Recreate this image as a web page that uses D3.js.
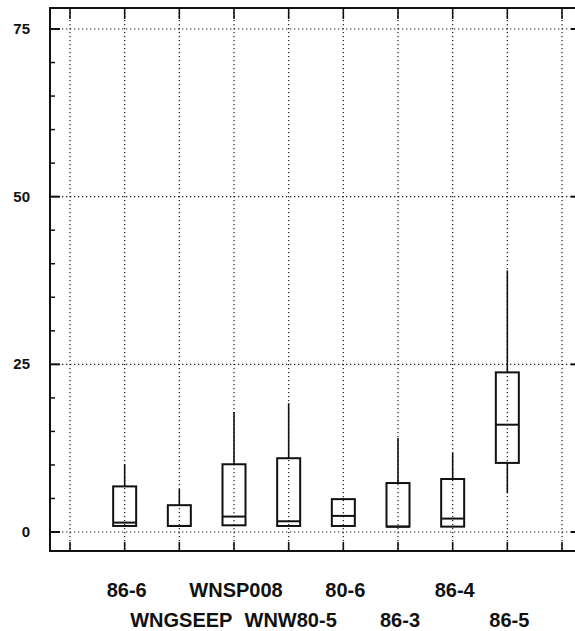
<!DOCTYPE html>
<html>
<head>
<meta charset="utf-8">
<script src="https://cdn.jsdelivr.net/npm/d3@7"></script>
<style>
  body { margin: 0; background: #fff; }
  text { font-family: "Liberation Sans", Arial, sans-serif; font-weight: bold; fill: #111; }
</style>
</head>
<body>
<svg id="chart" width="575" height="631"></svg>
<script>
// categories in plot order, and their label row (0 = upper, 1 = lower)
let categories = ['86-6', 'WNGSEEP', 'WNSP008', 'WNW80-5', '80-6', '86-3', '86-4', '86-5'];
let labelRow = [0, 1, 0, 1, 0, 1, 0, 1];

// box statistics
let whiskerLow  = [0.9, 0.9, 1.0, 0.9, 0.9, 0.8, 0.8, 5.8];
let q1          = [0.9, 0.9, 1.0, 0.9, 0.9, 0.8, 0.8, 10.3];
let median      = [1.4, 0.9, 2.3, 1.6, 2.4, 0.8, 2.0, 16.0];
let q3          = [6.8, 4.0, 10.1, 11.0, 4.9, 7.3, 7.9, 23.8];
let whiskerHigh = [10.1, 6.4, 17.9, 19.2, 5.0, 14.0, 11.8, 39.0];

let yTicks = [0, 25, 50, 75];
let yMinorTicks = d3.range(0, 80, 5);
let xGridSlots = d3.range(0, 10); // slot 0 and 9 are empty

// the right side of the frame falls just outside the window
let frame = { left: 50, top: 8, right: 581, bottom: 551 };

let svg = d3.select('#chart');

let x = d3.scaleLinear().domain([0, 9]).range([70, 562]);
let y = d3.scaleLinear().domain([0, 75]).range([532, 29]);

let grid = svg.append('g').attr('class', 'grid')
  .attr('stroke', '#222')
  .attr('stroke-width', 1.2)
  .attr('stroke-dasharray', '1.3,2.7');

grid.selectAll('line.v')
  .data(xGridSlots)
  .enter()
  .append('line')
  .attr('class', 'v')
  .attr('x1', d => x(d)).attr('x2', d => x(d))
  .attr('y1', frame.top).attr('y2', frame.bottom);

grid.selectAll('line.h')
  .data(yTicks)
  .enter()
  .append('line')
  .attr('class', 'h')
  .attr('x1', frame.left).attr('x2', frame.right)
  .attr('y1', d => y(d)).attr('y2', d => y(d));

// frame
svg.append('rect')
  .attr('x', frame.left).attr('y', frame.top)
  .attr('width', frame.right - frame.left)
  .attr('height', frame.bottom - frame.top)
  .attr('fill', 'none')
  .attr('stroke', '#111')
  .attr('stroke-width', 2);

// ticks
let ticks = svg.append('g').attr('stroke', '#111');

ticks.selectAll('line.ym')
  .data(yMinorTicks)
  .enter()
  .append('line')
  .attr('x1', frame.left)
  .attr('x2', d => frame.left + (d % 25 === 0 ? 10 : 5))
  .attr('y1', d => y(d)).attr('y2', d => y(d))
  .attr('stroke-width', d => d % 25 === 0 ? 2 : 1.5);

ticks.selectAll('line.yr')
  .data(yTicks)
  .enter()
  .append('line')
  .attr('x1', frame.right)
  .attr('x2', frame.right - 10)
  .attr('y1', d => y(d)).attr('y2', d => y(d))
  .attr('stroke-width', 2);

ticks.selectAll('line.xb')
  .data(xGridSlots)
  .enter()
  .append('line')
  .attr('x1', d => x(d)).attr('x2', d => x(d))
  .attr('y1', frame.bottom).attr('y2', frame.bottom - 9)
  .attr('stroke-width', 1.6);

ticks.selectAll('line.xt')
  .data(xGridSlots)
  .enter()
  .append('line')
  .attr('x1', d => x(d)).attr('x2', d => x(d))
  .attr('y1', frame.top).attr('y2', frame.top + 11)
  .attr('stroke-width', 1.6);

// y labels
svg.selectAll('text.ylab')
  .data(yTicks)
  .enter()
  .append('text')
  .attr('class', 'ylab')
  .attr('x', 30)
  .attr('y', d => y(d) + 5)
  .attr('text-anchor', 'end')
  .style('font-size', '15px')
  .text(d => d);

// boxes
let boxW = 23;
let boxes = svg.selectAll('g.box')
  .data(categories)
  .enter()
  .append('g')
  .attr('class', 'box')
  .attr('stroke', '#111');

boxes.append('line')
  .attr('x1', (d, i) => x(i + 1)).attr('x2', (d, i) => x(i + 1))
  .attr('y1', (d, i) => y(q3[i])).attr('y2', (d, i) => y(whiskerHigh[i]))
  .attr('stroke-width', 1.6);

boxes.append('line')
  .attr('x1', (d, i) => x(i + 1)).attr('x2', (d, i) => x(i + 1))
  .attr('y1', (d, i) => y(q1[i])).attr('y2', (d, i) => y(whiskerLow[i]))
  .attr('stroke-width', 1.6);

boxes.append('rect')
  .attr('x', (d, i) => x(i + 1) - boxW / 2)
  .attr('y', (d, i) => y(q3[i]))
  .attr('width', boxW)
  .attr('height', (d, i) => y(q1[i]) - y(q3[i]))
  .attr('fill', 'none')
  .attr('stroke-width', 2);

boxes.append('line')
  .attr('x1', (d, i) => x(i + 1) - boxW / 2).attr('x2', (d, i) => x(i + 1) + boxW / 2)
  .attr('y1', (d, i) => y(median[i])).attr('y2', (d, i) => y(median[i]))
  .attr('stroke-width', 2);

// category labels, two staggered rows
svg.selectAll('text.xlab')
  .data(categories)
  .enter()
  .append('text')
  .attr('class', 'xlab')
  .attr('x', (d, i) => x(i + 1) + 2)
  .attr('y', (d, i) => labelRow[i] === 0 ? 597 : 627)
  .attr('text-anchor', 'middle')
  .style('font-size', '20px')
  .text(d => d);
</script>
</body>
</html>
